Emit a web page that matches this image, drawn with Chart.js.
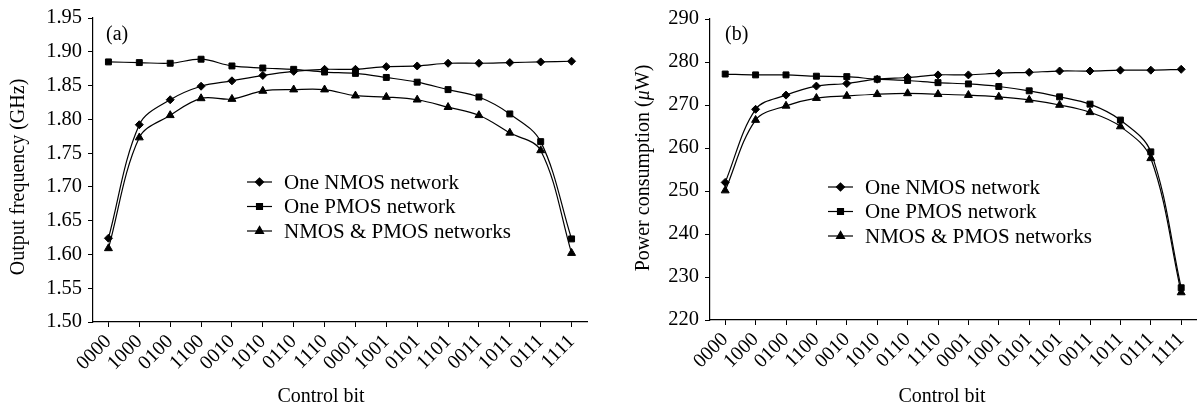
<!DOCTYPE html>
<html>
<head>
<meta charset="utf-8">
<script src="https://cdn.jsdelivr.net/npm/chart.js@4.4.1/dist/chart.umd.min.js"></script>
<style>
  body { margin: 0; background: #fff; }
  #wrap { position: relative; width: 1202px; height: 407px; }
  #left { position: absolute; left: 0; top: 0; }
  #right { position: absolute; left: 600px; top: 0; }
</style>
</head>
<body>
<div id="wrap">
  <canvas id="left" width="600" height="407"></canvas>
  <canvas id="right" width="602" height="407"></canvas>
</div>
<script>
// Control bit categories (x axis)
var controlBits = ['0000','1000','0100','1100','0010','1010','0110','1110',
                   '0001','1001','0101','1101','0011','1011','0111','1111'];

var seriesNames = ['One NMOS network', 'One PMOS network', 'NMOS & PMOS networks'];

// (a) output frequency, GHz
var freqNmos = [1.624, 1.792, 1.829, 1.849, 1.857, 1.865, 1.871, 1.874, 1.874, 1.878, 1.879, 1.883, 1.883, 1.884, 1.885, 1.886];
var freqPmos = [1.885, 1.884, 1.883, 1.889, 1.879, 1.876, 1.874, 1.870, 1.868, 1.862, 1.855, 1.844, 1.833, 1.808, 1.767, 1.623];
var freqBoth = [1.609, 1.773, 1.806, 1.831, 1.830, 1.842, 1.844, 1.844, 1.835, 1.833, 1.829, 1.818, 1.806, 1.780, 1.754, 1.602];

// (b) power consumption, uW
var powerNmos = [252.0, 269.0, 272.3, 274.4, 275.0, 276.0, 276.4, 277.0, 277.0, 277.4, 277.6, 277.9, 277.9, 278.1, 278.1, 278.3];
var powerPmos = [277.2, 277.0, 277.0, 276.7, 276.6, 276.0, 275.7, 275.2, 274.9, 274.3, 273.3, 271.9, 270.2, 266.5, 259.1, 227.5];
var powerBoth = [250.1, 266.5, 269.8, 271.6, 272.1, 272.5, 272.7, 272.5, 272.3, 271.9, 271.2, 270.0, 268.3, 265.0, 257.6, 226.4];

var freqTicks = { min: 1.50, max: 1.95, step: 0.05, digits: 2 };
var powerTicks = { min: 220, max: 290, step: 10, digits: 0 };

var FONT = "'Liberation Serif', 'Times New Roman', serif";
var markers = [
  { style: 'rectRot', radius: 4 },
  { style: 'rect', radius: 4.2 },
  { style: 'triangle', radius: 4.6 }
];

function makeDatasets(lists) {
  return lists.map(function (vals, i) {
    return {
      label: seriesNames[i],
      data: vals,
      borderColor: '#000',
      borderWidth: 1.2,
      backgroundColor: '#000',
      pointStyle: markers[i].style,
      pointRadius: markers[i].radius,
      pointBackgroundColor: '#000',
      pointBorderColor: '#000',
      pointBorderWidth: 1,
      tension: 0.35,
      fill: false,
      clip: false
    };
  });
}

// texts drawn over the chart: panel tag, legend, axis titles
function decor(d) {
  return {
    id: 'decor',
    afterDraw: function (chart) {
      var ctx = chart.ctx;
      ctx.save();
      ctx.fillStyle = '#000';
      ctx.strokeStyle = '#000';
      ctx.font = '20px ' + FONT;
      ctx.textBaseline = 'middle';
      ctx.textAlign = 'left';
      ctx.fillText(d.tag, d.tagX, d.tagY);

      // legend
      ctx.font = '21px ' + FONT;
      for (var i = 0; i < seriesNames.length; i++) {
        var y = d.legY + i * d.legGap;
        ctx.lineWidth = 1.2;
        ctx.beginPath();
        ctx.moveTo(d.legX, y);
        ctx.lineTo(d.legX + 25, y);
        ctx.stroke();
        Chart.helpers.drawPoint(ctx, { pointStyle: markers[i].style, radius: markers[i].radius, rotation: 0, borderWidth: 1 }, d.legX + 12.5, y);
        ctx.fillText(seriesNames[i], d.legX + 37, y + 1);
      }

      // x title
      ctx.font = '20px ' + FONT;
      ctx.textAlign = 'center';
      ctx.textBaseline = 'alphabetic';
      ctx.fillText('Control bit', d.xTitleX, 402);

      // y title, pieces may be italic
      ctx.translate(d.yTitleX, d.yTitleY);
      ctx.rotate(-Math.PI / 2);
      ctx.textBaseline = 'middle';
      ctx.textAlign = 'left';
      var total = 0;
      d.yTitle.forEach(function (p) {
        ctx.font = (p.italic ? 'italic ' : '') + '20px ' + FONT;
        total += ctx.measureText(p.text).width;
      });
      var x = -total / 2;
      d.yTitle.forEach(function (p) {
        ctx.font = (p.italic ? 'italic ' : '') + '20px ' + FONT;
        ctx.fillText(p.text, x, 0);
        x += ctx.measureText(p.text).width;
      });
      ctx.restore();
    }
  };
}

function buildChart(id, lists, t, box, d) {
  return new Chart(document.getElementById(id), {
    type: 'line',
    data: { labels: controlBits, datasets: makeDatasets(lists) },
    options: {
      responsive: false,
      animation: false,
      layout: { padding: { left: 0, top: box.top, right: box.right, bottom: 0 } },
      plugins: { legend: { display: false }, tooltip: { enabled: false } },
      scales: {
        x: {
          type: 'category',
          offset: true,
          border: { display: true, color: '#000', width: 1.2 },
          grid: { drawOnChartArea: false, drawTicks: true, tickLength: 5, color: '#000', offset: false },
          ticks: { autoSkip: false, minRotation: 45, maxRotation: 45, padding: 3, color: '#000', font: { family: FONT, size: 20 } },
          afterFit: function (s) { s.height = box.xHeight; s.paddingLeft = 0; s.paddingRight = 0; }
        },
        y: {
          min: t.min,
          max: t.max,
          border: { display: true, color: '#000', width: 1.2 },
          grid: { drawOnChartArea: false, drawTicks: true, tickLength: 5, color: '#000' },
          ticks: {
            stepSize: t.step,
            padding: 6,
            color: '#000',
            font: { family: FONT, size: 20.5 },
            callback: function (v) { return Number(v).toFixed(t.digits); }
          },
          afterFit: function (s) { s.width = box.yWidth; s.paddingTop = 0; s.paddingBottom = 0; }
        }
      }
    },
    plugins: [decor(d)]
  });
}

buildChart('left', [freqNmos, freqPmos, freqBoth], freqTicks,
  { top: 18, right: 13, yWidth: 93, xHeight: 85 },
  { tag: '(a)', tagX: 106, tagY: 35, legX: 247, legY: 182, legGap: 24.5,
    xTitleX: 321, yTitleX: 19, yTitleY: 177,
    yTitle: [{ text: 'Output frequency (GHz)' }] });

buildChart('right', [powerNmos, powerPmos, powerBoth], powerTicks,
  { top: 19, right: 2, yWidth: 110, xHeight: 87 },
  { tag: '(b)', tagX: 125, tagY: 35, legX: 228, legY: 187, legGap: 24.5,
    xTitleX: 342, yTitleX: 44, yTitleY: 168,
    yTitle: [{ text: 'Power consumption (' }, { text: '\u03bc', italic: true }, { text: 'W)' }] });
</script>
</body>
</html>
